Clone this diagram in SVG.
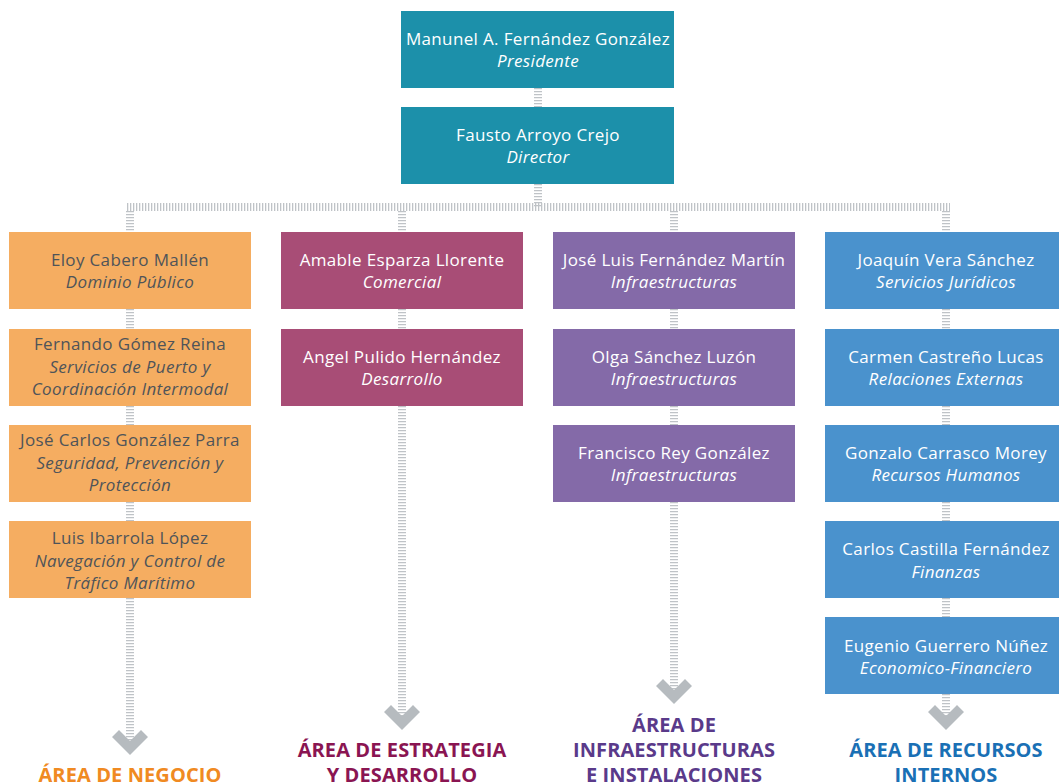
<svg xmlns="http://www.w3.org/2000/svg" width="1059" height="784" viewBox="0 0 1059 784">
<style>
.lad{stroke:#bfc3c7;fill:none;stroke-dasharray:1.3 1.7}
.v{stroke-width:8}
.h{stroke-width:8}
.chev{fill:#b6bbbf}
text{font-family:"Open Sans","Noto Sans","Liberation Sans",sans-serif;font-size:17px;letter-spacing:0.35px;text-anchor:middle}
.r{font-style:italic}
.w{fill:#ffffff}
.d{fill:#4f5459}
.area{font-size:20px;font-weight:bold;letter-spacing:0.1px}
.teal{fill:#1c90aa}
.org{fill:#f5ad61}
.mag{fill:#a84d76}
.pur{fill:#846aa8}
.blu{fill:#4a92cd}
</style>
<g id="connectors">
<line class="lad v" x1="538" y1="88" x2="538" y2="107"/>
<line class="lad v" x1="538" y1="184" x2="538" y2="207"/>
<line class="lad h" x1="127" y1="207" x2="950" y2="207"/>
<line class="lad v" x1="130" y1="211" x2="130" y2="232"/>
<line class="lad v" x1="402" y1="211" x2="402" y2="232"/>
<line class="lad v" x1="674" y1="211" x2="674" y2="232"/>
<line class="lad v" x1="946" y1="211" x2="946" y2="232"/>
<line class="lad v" x1="130" y1="309" x2="130" y2="329"/>
<line class="lad v" x1="130" y1="406" x2="130" y2="425"/>
<line class="lad v" x1="130" y1="502" x2="130" y2="521"/>
<line class="lad v" x1="130" y1="598" x2="130" y2="742"/>
<line class="lad v" x1="402" y1="309" x2="402" y2="329"/>
<line class="lad v" x1="402" y1="406" x2="402" y2="717"/>
<line class="lad v" x1="674" y1="309" x2="674" y2="329"/>
<line class="lad v" x1="674" y1="406" x2="674" y2="425"/>
<line class="lad v" x1="674" y1="502" x2="674" y2="692"/>
<line class="lad v" x1="946" y1="309" x2="946" y2="329"/>
<line class="lad v" x1="946" y1="406" x2="946" y2="425"/>
<line class="lad v" x1="946" y1="502" x2="946" y2="521"/>
<line class="lad v" x1="946" y1="598" x2="946" y2="617"/>
<line class="lad v" x1="946" y1="694" x2="946" y2="717"/>
<polygon class="chev" points="112,737 119,730 130,741 141,730 148,737 130,755"/>
<polygon class="chev" points="384,712 391,705 402,716 413,705 420,712 402,730"/>
<polygon class="chev" points="656,686 663,679 674,690 685,679 692,686 674,704"/>
<polygon class="chev" points="928,712 935,705 946,716 957,705 964,712 946,730"/>
</g>
<g id="n-presidente">
<rect class="teal" x="401" y="11" width="273" height="77"/>
<text class="w" x="538" y="45">Manunel A. Fernández González</text>
<text class="w r" x="538" y="67">Presidente</text>
</g>
<g id="n-director">
<rect class="teal" x="401" y="107" width="273" height="77"/>
<text class="w" x="538" y="141">Fausto Arroyo Crejo</text>
<text class="w r" x="538" y="163">Director</text>
</g>
<g id="n-eloy">
<rect class="org" x="9" y="232" width="242" height="77"/>
<text class="d" x="130" y="266">Eloy Cabero Mallén</text>
<text class="d r" x="130" y="288">Dominio Público</text>
</g>
<g id="n-fernando">
<rect class="org" x="9" y="329" width="242" height="77"/>
<text class="d" x="130" y="350">Fernando Gómez Reina</text>
<text class="d r" x="130" y="373">Servicios de Puerto y</text>
<text class="d r" x="130" y="395">Coordinación Intermodal</text>
</g>
<g id="n-josecarlos">
<rect class="org" x="9" y="425" width="242" height="77"/>
<text class="d" x="130" y="446">José Carlos González Parra</text>
<text class="d r" x="130" y="469">Seguridad, Prevención y</text>
<text class="d r" x="130" y="491">Protección</text>
</g>
<g id="n-luis">
<rect class="org" x="9" y="521" width="242" height="77"/>
<text class="d" x="130" y="544">Luis Ibarrola López</text>
<text class="d r" x="130" y="567">Navegación y Control de</text>
<text class="d r" x="130" y="589">Tráfico Marítimo</text>
</g>
<g id="n-amable">
<rect class="mag" x="281" y="232" width="242" height="77"/>
<text class="w" x="402" y="266">Amable Esparza Llorente</text>
<text class="w r" x="402" y="288">Comercial</text>
</g>
<g id="n-angel">
<rect class="mag" x="281" y="329" width="242" height="77"/>
<text class="w" x="402" y="363">Angel Pulido Hernández</text>
<text class="w r" x="402" y="385">Desarrollo</text>
</g>
<g id="n-joseluis">
<rect class="pur" x="553" y="232" width="242" height="77"/>
<text class="w" x="674" y="266">José Luis Fernández Martín</text>
<text class="w r" x="674" y="288">Infraestructuras</text>
</g>
<g id="n-olga">
<rect class="pur" x="553" y="329" width="242" height="77"/>
<text class="w" x="674" y="363">Olga Sánchez Luzón</text>
<text class="w r" x="674" y="385">Infraestructuras</text>
</g>
<g id="n-francisco">
<rect class="pur" x="553" y="425" width="242" height="77"/>
<text class="w" x="674" y="459">Francisco Rey González</text>
<text class="w r" x="674" y="481">Infraestructuras</text>
</g>
<g id="n-joaquin">
<rect class="blu" x="825" y="232" width="242" height="77"/>
<text class="w" x="946" y="266">Joaquín Vera Sánchez</text>
<text class="w r" x="946" y="288">Servicios Jurídicos</text>
</g>
<g id="n-carmen">
<rect class="blu" x="825" y="329" width="242" height="77"/>
<text class="w" x="946" y="363">Carmen Castreño Lucas</text>
<text class="w r" x="946" y="385">Relaciones Externas</text>
</g>
<g id="n-gonzalo">
<rect class="blu" x="825" y="425" width="242" height="77"/>
<text class="w" x="946" y="459">Gonzalo Carrasco Morey</text>
<text class="w r" x="946" y="481">Recursos Humanos</text>
</g>
<g id="n-carlos">
<rect class="blu" x="825" y="521" width="242" height="77"/>
<text class="w" x="946" y="555">Carlos Castilla Fernández</text>
<text class="w r" x="946" y="578">Finanzas</text>
</g>
<g id="n-eugenio">
<rect class="blu" x="825" y="617" width="242" height="77"/>
<text class="w" x="946" y="652">Eugenio Guerrero Núñez</text>
<text class="w r" x="946" y="674">Economico-Financiero</text>
</g>
<g id="areas">
<text class="area" x="130" y="782" fill="#f08a22">ÁREA DE NEGOCIO</text>
<text class="area" x="402" y="757" fill="#8a1552">ÁREA DE ESTRATEGIA</text>
<text class="area" x="402" y="782" fill="#8a1552">Y DESARROLLO</text>
<text class="area" x="674" y="732" fill="#5a3a8a">ÁREA DE</text>
<text class="area" x="674" y="757" fill="#5a3a8a">INFRAESTRUCTURAS</text>
<text class="area" x="674" y="782" fill="#5a3a8a">E INSTALACIONES</text>
<text class="area" x="946" y="757" fill="#1a70b5">ÁREA DE RECURSOS</text>
<text class="area" x="946" y="782" fill="#1a70b5">INTERNOS</text>
</g>
</svg>
